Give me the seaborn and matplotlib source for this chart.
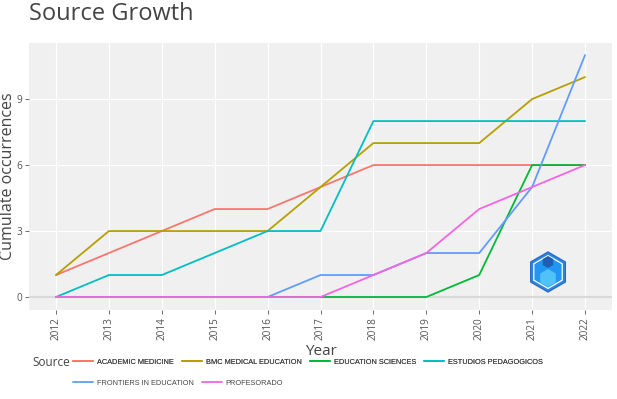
import matplotlib
matplotlib.use("Agg")
import matplotlib.pyplot as plt
import seaborn as sns
import pandas as pd
from matplotlib.patches import RegularPolygon

years = [2012, 2013, 2014, 2015, 2016, 2017, 2018, 2019, 2020, 2021, 2022]
sources = ["ACADEMIC MEDICINE", "BMC MEDICAL EDUCATION", "EDUCATION SCIENCES",
           "ESTUDIOS PEDAGOGICOS", "FRONTIERS IN EDUCATION", "PROFESORADO"]
academic_medicine = [1, 2, 3, 4, 4, 5, 6, 6, 6, 6, 6]
bmc_medical_education = [1, 3, 3, 3, 3, 5, 7, 7, 7, 9, 10]
education_sciences = [0, 0, 0, 0, 0, 0, 0, 0, 1, 6, 6]
estudios_pedagogicos = [0, 1, 1, 2, 3, 3, 8, 8, 8, 8, 8]
frontiers_in_education = [0, 0, 0, 0, 0, 1, 1, 2, 2, 5, 11]
profesorado = [0, 0, 0, 0, 0, 0, 1, 2, 4, 5, 6]
colors = ["#F8766D", "#B79F00", "#00BA38", "#00BFC4", "#619CFF", "#F564E3"]
y_ticks = [0, 3, 6, 9]

series = [academic_medicine, bmc_medical_education, education_sciences,
          estudios_pedagogicos, frontiers_in_education, profesorado]
rows = []
for s, vals in zip(sources, series):
    for yr, v in zip(years, vals):
        rows.append({"Year": yr, "Occ": v, "Source": s})
df = pd.DataFrame(rows)

sns.set_theme(style="white")
plt.rcParams["font.family"] = ["Open Sans", "DejaVu Sans"]

fig = plt.figure(figsize=(6.17, 3.99), dpi=100)
ax = fig.add_axes([29/617, 1-310/399, (612-29)/617, (310-43)/399])
ax.set_facecolor("#F0F0F0")
for sp in ax.spines.values():
    sp.set_visible(False)

ax.axhline(0, color="#D9D9D9", lw=1.6, zorder=1)
sns.lineplot(data=df, x="Year", y="Occ", hue="Source", hue_order=sources,
             palette=colors, lw=1.3, ax=ax, zorder=3)

ax.set_xlim(2011.49, 2022.51)
ax.set_ylim(-0.59, 11.55)
ax.set_xticks(years)
ax.set_xticklabels([str(y) for y in years], rotation=90)
ax.set_yticks(y_ticks)
ax.grid(True, color="white", lw=0.9, zorder=0)
ax.set_axisbelow(True)
ax.tick_params(axis="both", colors="#555555", labelsize=7.2, length=3,
               width=0.6, direction="out", bottom=True, left=True, pad=2)
ax.set_xlabel("Year", fontsize=11, color="#444444")
ax.set_ylabel("Cumulate occurrences", fontsize=11.5, color="#444444")
ax.xaxis.set_label_coords(0.5, -0.128)
ax.yaxis.set_label_coords(-0.0215, 0.5)

fig.text(29/617, 1-14/399, "Source Growth", fontsize=17, color="#444444",
         va="center", ha="left")

handles, labels = ax.get_legend_handles_labels()
ax.get_legend().remove()
fig.text(32/617, 1-362/399, "Source", fontsize=8.5, color="#444444",
         va="center", ha="left")
lkw = dict(frameon=False, prop={"family": "Liberation Sans", "size": 5.3},
           handlelength=2.7, handletextpad=0.55, columnspacing=1.1,
           borderpad=0, borderaxespad=0,
           labelcolor="#444444", loc="center left")
leg1 = fig.legend(handles[:4], labels[:4], ncol=4,
                  bbox_to_anchor=(73/617, 1-362/399), **lkw)
leg2 = fig.legend(handles[4:], labels[4:], ncol=2,
                  bbox_to_anchor=(73/617, 1-383/399), **lkw)
fig.add_artist(leg1)
for lg in (leg1, leg2):
    for ln in lg.get_lines():
        ln.set_linewidth(1.3)

# logo hexagon
lax = fig.add_axes([526/617, 1-294/399, 44/617, 44/399])
lax.set_xlim(-1.1, 1.1)
lax.set_ylim(-1.1, 1.1)
lax.set_aspect("equal")
lax.axis("off")
lax.add_patch(RegularPolygon((0, 0), 6, radius=1.0, facecolor="#2E86E0",
                             edgecolor="#2C6FC9", lw=1.0))
lax.add_patch(RegularPolygon((0, 0), 6, radius=0.82, facecolor="#2196F3",
                             edgecolor="white", lw=0.9))
lax.add_patch(RegularPolygon((0, -0.3), 6, radius=0.45, facecolor="#4FC3F7",
                             edgecolor="none"))
lax.add_patch(RegularPolygon((0, 0.5), 6, radius=0.3, facecolor="#1E5FB5",
                             edgecolor="none"))

fig.savefig("out.png", dpi=100)
